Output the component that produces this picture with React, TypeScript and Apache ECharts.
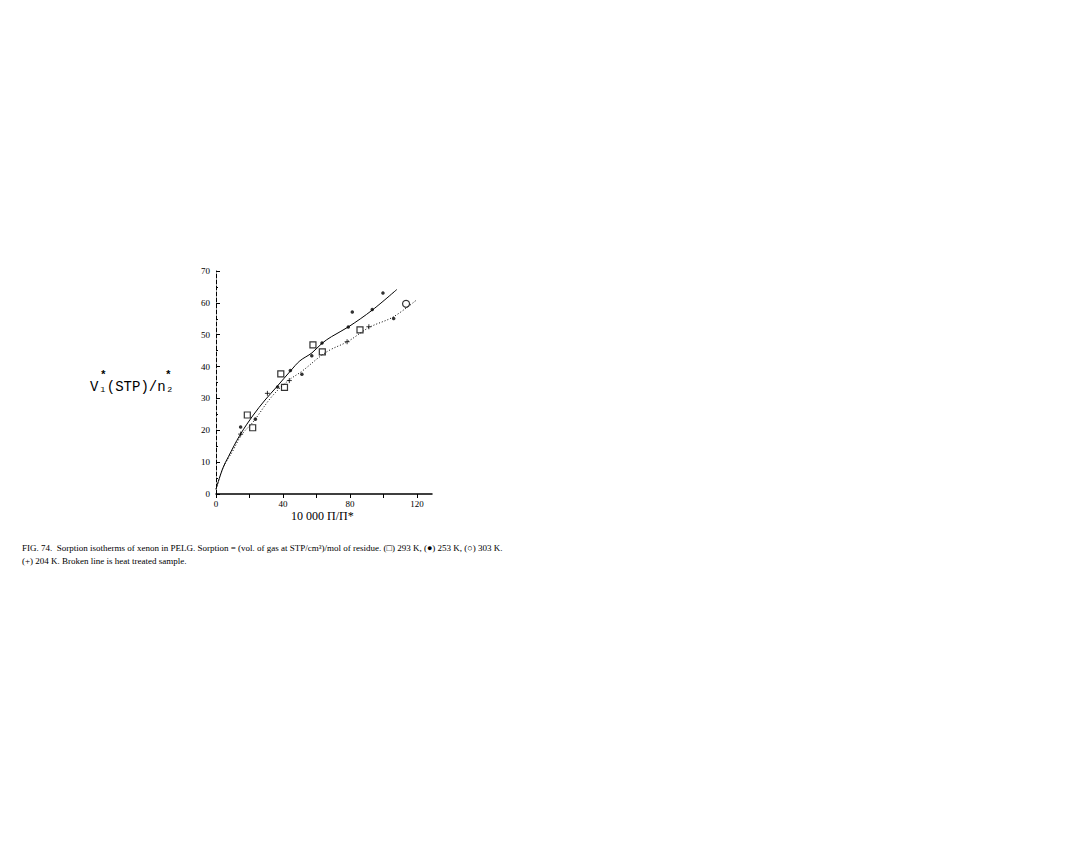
import React, { useEffect, useRef } from "react";
import * as echarts from "echarts";

const xTicks = [0, 40, 80, 120];
const yTicks = [0, 10, 20, 30, 40, 50, 60, 70];

const solidCurve: [number, number][] = [
  [0, 1.5], [4, 8], [7.4, 11.7], [14.3, 18.5], [22.3, 24.8], [29.3, 29.5], [36.2, 33.6],
  [44.6, 38.7], [50.1, 41.8], [57.3, 44.3], [63.3, 47.3], [69, 49.4], [79.2, 52.5],
  [93.5, 57.8], [108, 64.2],
];
const brokenCurve: [number, number][] = [
  [0, 1.5], [4.2, 8.2], [10, 13.5], [15.3, 18.6], [22.3, 22.7], [33.2, 30.5], [43.2, 35.6],
  [51.5, 38.6], [62, 43.1], [68, 45.2], [78.8, 47.9], [91.5, 52.3], [105.9, 55.6], [120, 61],
];
const squares293: [number, number][] = [
  [18.7, 24.8], [21.9, 20.8], [38.7, 37.7], [40.9, 33.5], [57.9, 46.8], [63.5, 44.6], [86, 51.5],
];
const dots253: [number, number][] = [
  [14.7, 21], [23.5, 23.5], [36.8, 33.6], [44.4, 38.8], [51.3, 37.6], [57.2, 43.4], [63.3, 47.4],
  [79, 52.4], [81.4, 57.1], [93.3, 57.9], [99.7, 63.1], [106.1, 55.1],
];
const circles303: [number, number][] = [[113.5, 59.7]];
const plus204: [number, number][] = [
  [14.7, 18.8], [30.7, 31.6], [43.8, 35.6], [78.3, 47.8], [91.3, 52.5],
];

const captionLine1 =
  "FIG. 74.  Sorption isotherms of xenon in PELG. Sorption = (vol. of gas at STP/cm³)/mol of residue. (□) 293 K, (●) 253 K, (○) 303 K.";
const captionLine2 = "(+) 204 K. Broken line is heat treated sample.";

const plusPath = "path://M0,5L10,5M5,0L5,10";
const font = "'Liberation Serif', serif";
const mono = "'Liberation Mono', monospace";

export default function App() {
  const ref = useRef<HTMLDivElement>(null);
  useEffect(() => {
    const chart = echarts.init(ref.current!, undefined, { renderer: "svg" });
    chart.setOption({
      animation: false,
      backgroundColor: "#ffffff",
      grid: { left: 216, right: 646, top: 271, bottom: 349 },
      xAxis: {
        type: "value",
        min: 0,
        max: 129,
        interval: 20,
        axisLine: { lineStyle: { color: "#000", width: 1.5 } },
        axisTick: { show: true, inside: false, length: 4, lineStyle: { color: "#000" } },
        axisLabel: {
          color: "#000",
          fontSize: 9,
          fontFamily: font,
          margin: 5,
          showMaxLabel: false,
          formatter: (v: number) => (xTicks.includes(v) ? String(v) : ""),
        },
        splitLine: { show: false },
      },
      yAxis: {
        type: "value",
        min: 0,
        max: 70,
        interval: 10,
        axisLine: { show: true, lineStyle: { color: "#000", width: 1, type: "dashed" } },
        axisTick: { show: true, inside: true, length: 4, lineStyle: { color: "#000" } },
        minorTick: { show: true, splitNumber: 2, length: 2, lineStyle: { color: "#000" } },
        axisLabel: {
          color: "#000",
          fontSize: 9,
          fontFamily: font,
          margin: 6,
          formatter: (v: number) => (yTicks.includes(v) ? String(v) : ""),
        },
        splitLine: { show: false },
      },
      series: [
        {
          type: "line",
          data: solidCurve,
          smooth: 0.35,
          showSymbol: false,
          lineStyle: { color: "#000", width: 1 },
        },
        {
          type: "line",
          data: brokenCurve,
          smooth: 0.35,
          showSymbol: false,
          lineStyle: { color: "#000", width: 1, type: [1, 2] },
        },
        {
          type: "scatter",
          data: squares293,
          symbol: "rect",
          symbolSize: 6,
          itemStyle: { color: "#fff", borderColor: "#000", borderWidth: 1.2 },
        },
        {
          type: "scatter",
          data: dots253,
          symbol: "circle",
          symbolSize: 3.5,
          itemStyle: { color: "#000" },
        },
        {
          type: "scatter",
          data: circles303,
          symbol: "circle",
          symbolSize: 7,
          itemStyle: { color: "#fff", borderColor: "#000", borderWidth: 1.2 },
        },
        {
          type: "scatter",
          data: plus204,
          symbol: plusPath,
          symbolSize: 5,
          itemStyle: { color: "none", borderColor: "#000", borderWidth: 1 },
        },
      ],
      graphic: [
        {
          type: "text",
          left: 90,
          top: 380,
          style: { text: "V₁(STP)/n₂", font: `14px ${mono}`, fill: "#000" },
        },
        { type: "text", left: 100, top: 369, style: { text: "*", font: `bold 11px ${mono}`, fill: "#000" } },
        { type: "text", left: 165, top: 369, style: { text: "*", font: `bold 11px ${mono}`, fill: "#000" } },
        {
          type: "text",
          left: 291,
          top: 510,
          style: { text: "10 000 Π/Π*", font: `12px ${font}`, fill: "#000" },
        },
        {
          type: "text",
          left: 22,
          top: 543,
          style: { text: captionLine1, font: `9px ${font}`, fill: "#000" },
        },
        {
          type: "text",
          left: 22,
          top: 556,
          style: { text: captionLine2, font: `9px ${font}`, fill: "#000" },
        },
      ],
    });
    return () => chart.dispose();
  }, []);
  return <div ref={ref} style={{ width: 1078, height: 843, position: "absolute", left: 0, top: 0 }} />;
}
